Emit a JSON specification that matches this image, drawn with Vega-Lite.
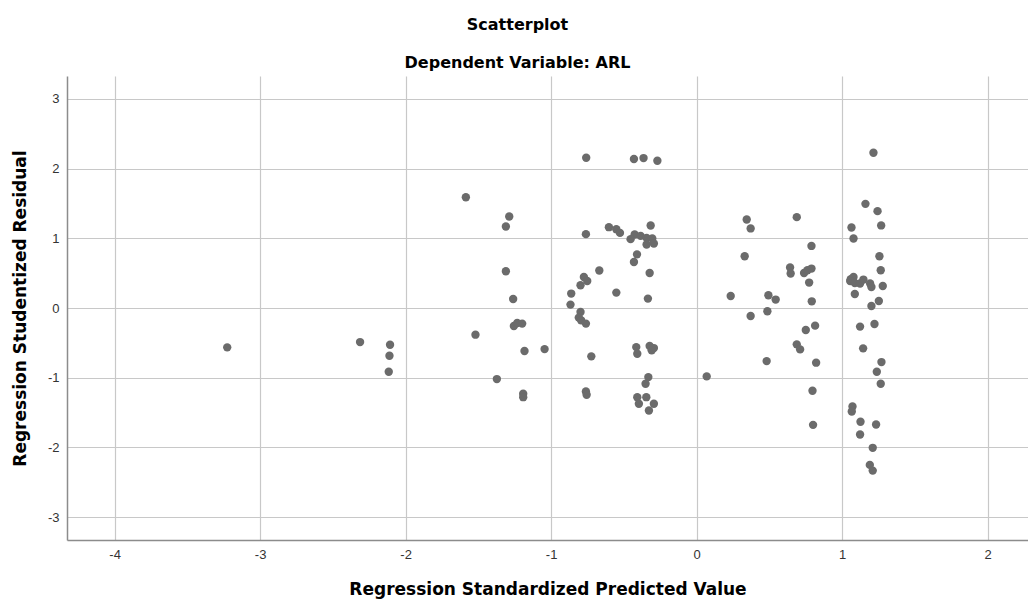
{
  "$schema": "https://vega.github.io/schema/vega-lite/v6.json",
  "width": 961,
  "height": 464,
  "autosize": {"type": "none"},
  "padding": {"left": 67, "top": 76, "right": 0, "bottom": 63},
  "background": "white",
  "view": {"stroke": null},
  "title": {
    "text": "Scatterplot",
    "subtitle": "Dependent Variable: ARL",
    "anchor": "middle",
    "dx": -30,
    "offset": 5,
    "font": "DejaVu Sans",
    "fontSize": 16,
    "fontWeight": "bold",
    "color": "#000000",
    "subtitleFont": "DejaVu Sans",
    "subtitleFontSize": 16,
    "subtitleFontWeight": "bold",
    "subtitleColor": "#000000",
    "subtitlePadding": 22
  },
  "config": {
    "axis": {
      "labelFont": "Liberation Sans",
      "labelFontSize": 13,
      "labelColor": "#333333",
      "titleFont": "DejaVu Sans",
      "titleFontSize": 17,
      "titleFontWeight": "bold",
      "titleColor": "#000000",
      "gridColor": "#c8c8c8",
      "gridWidth": 1.2,
      "domainColor": "#8c8c8c",
      "domainWidth": 1.5,
      "ticks": false
    }
  },
  "data": {
    "values": [
      {"pred": -3.226, "resid": -0.565},
      {"pred": -2.313, "resid": -0.489},
      {"pred": -2.107, "resid": -0.527},
      {"pred": -2.111, "resid": -0.685},
      {"pred": -2.116, "resid": -0.915},
      {"pred": -1.586, "resid": 1.59},
      {"pred": -1.52, "resid": -0.383},
      {"pred": -1.373, "resid": -1.02},
      {"pred": -1.288, "resid": 1.314},
      {"pred": -1.311, "resid": 1.17},
      {"pred": -1.311, "resid": 0.528},
      {"pred": -1.261, "resid": 0.129},
      {"pred": -1.256, "resid": -0.259},
      {"pred": -1.233, "resid": -0.216},
      {"pred": -1.199, "resid": -0.224},
      {"pred": -1.183, "resid": -0.618},
      {"pred": -1.192, "resid": -1.231},
      {"pred": -1.192, "resid": -1.28},
      {"pred": -1.045, "resid": -0.59},
      {"pred": -0.759, "resid": 2.157},
      {"pred": -0.431, "resid": 2.138},
      {"pred": -0.365, "resid": 2.152},
      {"pred": -0.27, "resid": 2.114},
      {"pred": -0.761, "resid": 1.06},
      {"pred": -0.603, "resid": 1.16},
      {"pred": -0.552, "resid": 1.131},
      {"pred": -0.527, "resid": 1.078},
      {"pred": -0.316, "resid": 1.184},
      {"pred": -0.426, "resid": 1.055},
      {"pred": -0.454, "resid": 0.988},
      {"pred": -0.385, "resid": 1.035},
      {"pred": -0.344, "resid": 1.006},
      {"pred": -0.305, "resid": 0.998},
      {"pred": -0.344, "resid": 0.911},
      {"pred": -0.294, "resid": 0.926},
      {"pred": -0.41, "resid": 0.77},
      {"pred": -0.431, "resid": 0.661},
      {"pred": -0.323, "resid": 0.503},
      {"pred": -0.669, "resid": 0.538},
      {"pred": -0.775, "resid": 0.446},
      {"pred": -0.752, "resid": 0.388},
      {"pred": -0.798, "resid": 0.326},
      {"pred": -0.862, "resid": 0.207},
      {"pred": -0.867, "resid": 0.049},
      {"pred": -0.552, "resid": 0.221},
      {"pred": -0.335, "resid": 0.135},
      {"pred": 0.234, "resid": 0.173},
      {"pred": -0.798, "resid": -0.058},
      {"pred": -0.81, "resid": -0.138},
      {"pred": -0.794, "resid": -0.177},
      {"pred": -0.761, "resid": -0.224},
      {"pred": -0.724, "resid": -0.694},
      {"pred": -0.415, "resid": -0.561},
      {"pred": -0.408, "resid": -0.656},
      {"pred": -0.323, "resid": -0.546},
      {"pred": -0.294, "resid": -0.575},
      {"pred": -0.309, "resid": -0.608},
      {"pred": -0.761, "resid": -1.198},
      {"pred": -0.756, "resid": -1.245},
      {"pred": -0.332, "resid": -0.992},
      {"pred": -0.351, "resid": -1.087},
      {"pred": -0.408, "resid": -1.28},
      {"pred": -0.397, "resid": -1.375},
      {"pred": -0.346, "resid": -1.28},
      {"pred": -0.294, "resid": -1.375},
      {"pred": -0.328, "resid": -1.471},
      {"pred": 0.069, "resid": -0.982},
      {"pred": 0.344, "resid": 1.271},
      {"pred": 0.371, "resid": 1.142},
      {"pred": 0.688, "resid": 1.304},
      {"pred": 0.33, "resid": 0.743},
      {"pred": 0.371, "resid": -0.115},
      {"pred": 0.493, "resid": 0.183},
      {"pred": 0.543, "resid": 0.121},
      {"pred": 0.486, "resid": -0.047},
      {"pred": 0.481, "resid": -0.762},
      {"pred": 0.642, "resid": 0.581},
      {"pred": 0.646, "resid": 0.495},
      {"pred": 0.738, "resid": 0.503},
      {"pred": 0.761, "resid": 0.542},
      {"pred": 0.789, "resid": 0.566},
      {"pred": 0.789, "resid": 0.891},
      {"pred": 0.773, "resid": 0.365},
      {"pred": 0.791, "resid": 0.096},
      {"pred": 0.814, "resid": -0.253},
      {"pred": 0.75, "resid": -0.316},
      {"pred": 0.688, "resid": -0.522},
      {"pred": 0.711, "resid": -0.594},
      {"pred": 0.821, "resid": -0.785},
      {"pred": 0.796, "resid": -1.188},
      {"pred": 0.8, "resid": -1.677},
      {"pred": 1.215, "resid": 2.229},
      {"pred": 1.16, "resid": 1.495},
      {"pred": 1.243, "resid": 1.39},
      {"pred": 1.268, "resid": 1.185},
      {"pred": 1.064, "resid": 1.156},
      {"pred": 1.078, "resid": 0.998},
      {"pred": 1.256, "resid": 0.743},
      {"pred": 1.265, "resid": 0.542},
      {"pred": 1.059, "resid": 0.413},
      {"pred": 1.078, "resid": 0.446},
      {"pred": 1.055, "resid": 0.388},
      {"pred": 1.087, "resid": 0.359},
      {"pred": 1.123, "resid": 0.351},
      {"pred": 1.146, "resid": 0.408},
      {"pred": 1.192, "resid": 0.351},
      {"pred": 1.201, "resid": 0.302},
      {"pred": 1.279, "resid": 0.316},
      {"pred": 1.087, "resid": 0.201},
      {"pred": 1.252, "resid": 0.101},
      {"pred": 1.201, "resid": 0.029},
      {"pred": 1.123, "resid": -0.267},
      {"pred": 1.222, "resid": -0.23},
      {"pred": 1.144, "resid": -0.579},
      {"pred": 1.27, "resid": -0.776},
      {"pred": 1.238, "resid": -0.915},
      {"pred": 1.265, "resid": -1.087},
      {"pred": 1.071, "resid": -1.413},
      {"pred": 1.066, "resid": -1.485},
      {"pred": 1.126, "resid": -1.633},
      {"pred": 1.233, "resid": -1.672},
      {"pred": 1.123, "resid": -1.816},
      {"pred": 1.21, "resid": -2.007},
      {"pred": 1.19, "resid": -2.252},
      {"pred": 1.21, "resid": -2.334}
    ]
  },
  "mark": {"type": "circle", "size": 70, "color": "#6b6b6b", "opacity": 1},
  "encoding": {
    "x": {
      "field": "pred",
      "type": "quantitative",
      "scale": {"domain": [-4.327, 2.277], "nice": false, "zero": false},
      "axis": {
        "values": [-4, -3, -2, -1, 0, 1, 2],
        "labelExpr": "datum.value + ''",
        "title": "Regression Standardized Predicted Value",
        "labelPadding": 8,
        "titlePadding": 20
      }
    },
    "y": {
      "field": "resid",
      "type": "quantitative",
      "scale": {"domain": [-3.33, 3.33], "nice": false, "zero": false},
      "axis": {
        "values": [-3, -2, -1, 0, 1, 2, 3],
        "labelExpr": "datum.value + ''",
        "title": "Regression Studentized Residual",
        "labelPadding": 8,
        "titlePadding": 18
      }
    }
  }
}
